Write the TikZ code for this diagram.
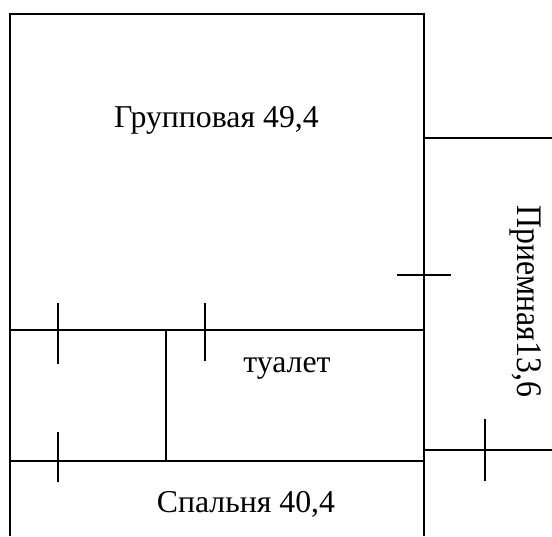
\documentclass[tikz,border=0pt]{standalone}
\usepackage{fontspec}
\setmainfont{Liberation Serif}
\tikzset{wall/.style={draw=black,line width=1.8pt,line cap=butt},
lbl/.style={inner sep=0pt,anchor=base,font=\fontsize{31.8pt}{34pt}\selectfont,text=black}}
\begin{document}
\begin{tikzpicture}[x=1pt,y=-1pt]
\useasboundingbox (0,0) rectangle (552,536);
\coordinate (tl) at (10,14); \coordinate (tr) at (424,14);
\coordinate (bl) at (10,536); \coordinate (br) at (424,536);
\draw[wall] (bl) -- (tl) -- (tr) -- (br);
\draw[wall] (10,330) -- (424,330);
\draw[wall] (10,461) -- (424,461);
\draw[wall] (166,330) -- (166,461);
\draw[wall] (424,138) -- (552,138);
\draw[wall] (424,450) -- (552,450);
\draw[wall] (397,275) -- (451,275);
\draw[wall] (58,303) -- (58,364);
\draw[wall] (205,303) -- (205,361);
\draw[wall] (58,432) -- (58,482);
\draw[wall] (485,419) -- (485,481);
\node[lbl] (a) at (216.5,127.5) {Групповая 49,4};
\node[lbl] (b) at (287,372) {туалет};
\node[lbl] (c) at (246,512) {Спальня 40,4};
\node[lbl,rotate=-90] (d) at (517.5,301.5) {\scalebox{1}[1.13]{Приемная\hspace{0.01em}13,6}};
\end{tikzpicture}
\end{document}
